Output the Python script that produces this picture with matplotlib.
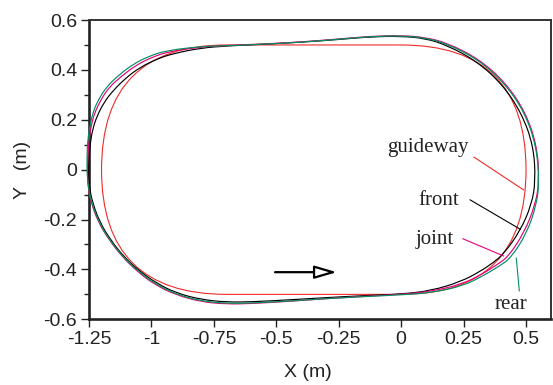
import matplotlib
matplotlib.use("Agg")
import matplotlib.pyplot as plt
from matplotlib.patches import FancyBboxPatch, FancyArrowPatch, PathPatch
from matplotlib.path import Path
from matplotlib.ticker import MultipleLocator, FixedLocator

# ---------------- data ----------------
x_ticks = [-1.25, -1.0, -0.75, -0.5, -0.25, 0.0, 0.25, 0.5]
x_ticklabels = ["-1.25", "-1", "-0.75", "-0.5", "-0.25", "0", "0.25", "0.5"]
y_ticks = [-0.6, -0.4, -0.2, 0.0, 0.2, 0.4, 0.6]
y_ticklabels = ["-0.6", "-0.4", "-0.2", "0", "0.2", "0.4", "0.6"]

# guideway: stadium (straights + semicircles of radius 0.5)
guide_xmin, guide_xmax = -1.2, 0.5
guide_ymin, guide_ymax = -0.5, 0.5
guide_radius = 0.5

front_x = [0.0, 0.121, 0.239, 0.318, 0.371, 0.413, 0.478, 0.522, 0.538, 0.530, 0.483, 0.406, 0.304, 0.182, 0.093, 0.0,
           -0.12, -0.25, -0.40, -0.55, -0.70, -0.80, -0.912, -0.98, -1.046, -1.10, -1.153, -1.19, -1.219, -1.236, -1.245, -1.25,
           -1.252, -1.249, -1.235, -1.207, -1.165, -1.11, -1.05, -0.98, -0.90, -0.80, -0.70, -0.60, -0.45, -0.30, -0.15]
front_y = [-0.499, -0.485, -0.449, -0.407, -0.371, -0.335, -0.243, -0.140, -0.047, 0.094, 0.225, 0.341, 0.434, 0.500, 0.527, 0.535,
           0.533, 0.522, 0.511, 0.503, 0.496, 0.488, 0.466, 0.443, 0.410, 0.370, 0.318, 0.270, 0.213, 0.160, 0.106, 0.050,
           -0.010, -0.070, -0.135, -0.210, -0.280, -0.350, -0.405, -0.455, -0.495, -0.521, -0.531, -0.530, -0.522, -0.513, -0.505]

joint_x = [0.0, 0.122, 0.244, 0.326, 0.382, 0.430, 0.493, 0.536, 0.553, 0.544, 0.497, 0.417, 0.311, 0.185, 0.094, 0.0,
           -0.12, -0.25, -0.40, -0.55, -0.70, -0.80, -0.93, -1.00, -1.06, -1.12, -1.17, -1.20, -1.228, -1.243, -1.251, -1.255,
           -1.257, -1.254, -1.241, -1.213, -1.171, -1.116, -1.055, -0.985, -0.90, -0.80, -0.70, -0.60, -0.45, -0.30, -0.15]
joint_y = [-0.500, -0.488, -0.459, -0.418, -0.382, -0.348, -0.251, -0.144, -0.048, 0.096, 0.232, 0.350, 0.444, 0.508, 0.531, 0.538,
           0.535, 0.524, 0.512, 0.504, 0.498, 0.492, 0.474, 0.450, 0.420, 0.375, 0.330, 0.285, 0.228, 0.170, 0.110, 0.050,
           -0.010, -0.070, -0.135, -0.210, -0.280, -0.350, -0.410, -0.462, -0.503, -0.530, -0.539, -0.537, -0.528, -0.517, -0.508]

rear_x = [0.0, 0.123, 0.248, 0.331, 0.389, 0.439, 0.502, 0.541, 0.553, 0.541, 0.494, 0.414, 0.309, 0.184, 0.093, 0.0,
          -0.12, -0.25, -0.40, -0.55, -0.70, -0.80, -0.939, -1.01, -1.072, -1.13, -1.179, -1.21, -1.233, -1.248, -1.256, -1.258,
          -1.258, -1.253, -1.239, -1.211, -1.169, -1.114, -1.053, -0.983, -0.90, -0.80, -0.70, -0.60, -0.45, -0.30, -0.15]
rear_y = [-0.502, -0.493, -0.466, -0.424, -0.389, -0.355, -0.256, -0.145, -0.048, 0.095, 0.231, 0.347, 0.441, 0.505, 0.529, 0.537,
          0.534, 0.523, 0.511, 0.503, 0.497, 0.494, 0.478, 0.455, 0.424, 0.380, 0.333, 0.285, 0.235, 0.170, 0.110, 0.050,
          -0.010, -0.070, -0.135, -0.210, -0.280, -0.350, -0.408, -0.459, -0.500, -0.527, -0.536, -0.535, -0.527, -0.517, -0.509]

labels = ["guideway", "front", "joint", "rear"]
label_pos = [(0.108, 0.072), (0.151, -0.141), (0.135, -0.297), (0.44, -0.558)]
leader_start = [(0.292, 0.05), (0.276, -0.121), (0.247, -0.277), (0.473, -0.486)]
leader_end = [(0.49, -0.081), (0.477, -0.239), (0.41, -0.346), (0.461, -0.355)]

arrow_tail = (-0.505, -0.411)
arrow_tip = (-0.258, -0.411)

# ---------------- style ----------------
c_guide = "#f02a2a"
c_front = "#000000"
c_joint = "#e6007e"
c_rear = "#00915a"
colors = [c_guide, c_front, c_joint, c_rear]


def closed_smooth_path(xs, ys):
    """Closed quadratic-Bezier path using the read points as control points."""
    pts = list(zip(xs, ys))
    n = len(pts)
    mids = [((pts[i][0] + pts[(i + 1) % n][0]) / 2, (pts[i][1] + pts[(i + 1) % n][1]) / 2) for i in range(n)]
    verts = [mids[0]]
    codes = [Path.MOVETO]
    for i in range(1, n + 1):
        verts += [pts[i % n], mids[i % n]]
        codes += [Path.CURVE3, Path.CURVE3]
    return Path(verts, codes)


fig = plt.figure(figsize=(5.53, 3.85), dpi=100)
ax = fig.add_axes([0.161, 0.1706, 0.8354, 0.7774])

guide = FancyBboxPatch((guide_xmin, guide_ymin), guide_xmax - guide_xmin, guide_ymax - guide_ymin,
                       boxstyle=f"round,pad=0,rounding_size={guide_radius}",
                       fill=False, ec=c_guide, lw=0.8, zorder=2)
ax.add_patch(guide)

for xs, ys, col, z in [(front_x, front_y, c_front, 3), (joint_x, joint_y, c_joint, 4), (rear_x, rear_y, c_rear, 5)]:
    ax.add_patch(PathPatch(closed_smooth_path(xs, ys), fill=False, ec=col, lw=0.85, zorder=z, clip_on=False))

for lab, pos, s, e, col in zip(labels, label_pos, leader_start, leader_end, colors):
    ax.text(pos[0], pos[1], lab, ha="center", va="baseline", fontsize=15,
            family="Liberation Serif", color="#222222")
    ax.plot([s[0], e[0]], [s[1], e[1]], color=col, lw=0.8, zorder=6)

arr = FancyArrowPatch(arrow_tail, arrow_tip, arrowstyle="-|>,head_length=0.75,head_width=0.22",
                      mutation_scale=18, fc="white", ec="black", lw=1.6, shrinkA=0, shrinkB=0, zorder=7)
ax.add_patch(arr)

ax.set_xlim(-1.25, 0.6)
ax.set_ylim(-0.6, 0.6)
ax.xaxis.set_major_locator(FixedLocator(x_ticks))
ax.set_xticklabels(x_ticklabels)
ax.yaxis.set_major_locator(FixedLocator(y_ticks))
ax.set_yticklabels(y_ticklabels)
ax.yaxis.set_minor_locator(MultipleLocator(0.1))

for lab in ax.get_xticklabels() + ax.get_yticklabels():
    lab.set_family("Liberation Sans")
    lab.set_fontsize(14)
    lab.set_color("#222222")

ax.tick_params(axis="both", which="major", direction="out", length=5.5, width=1.0, color="#222222", pad=3)
ax.tick_params(axis="y", which="minor", direction="out", length=3.5, width=1.0, color="#222222")
ax.tick_params(top=False, right=False)

for side in ["left", "bottom"]:
    ax.spines[side].set_linewidth(1.9)
    ax.spines[side].set_color("#222222")
for side in ["top", "right"]:
    ax.spines[side].set_linewidth(1.4)
    ax.spines[side].set_color("#333333")

ax.set_xlabel("X (m)", fontsize=14, family="Liberation Sans", color="#222222")
ax.set_ylabel("Y   (m)", fontsize=14, family="Liberation Sans", color="#222222")
ax.xaxis.set_label_coords(0.474, -0.15)
ax.yaxis.set_label_coords(-0.125, 0.5)

fig.savefig("out.png", dpi=100)
